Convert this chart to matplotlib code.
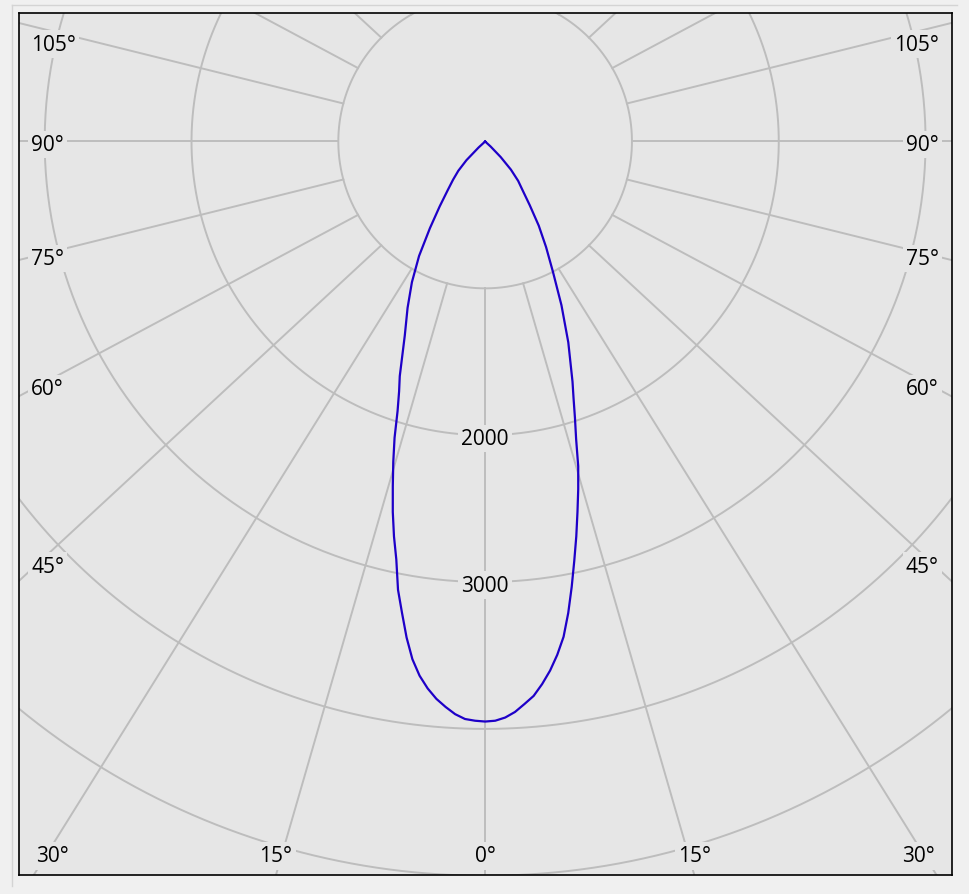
import matplotlib
matplotlib.use("Agg")
import matplotlib.pyplot as plt
import numpy as np

# luminous intensity (cd), C0 plane on the right, C180 plane on the left
gamma = [0, 1, 2, 3, 4, 5, 6, 7, 8, 9, 10, 11, 12, 13, 14, 15, 16, 17, 18,
         19, 20, 22.5, 25, 27.5, 30, 32.5, 35, 37.5, 40, 42.5, 45, 47.5, 50]
c0 = [3950, 3945, 3925, 3890, 3840, 3790, 3715, 3630, 3530, 3415, 3260, 3090,
      2920, 2760, 2600, 2450, 2300, 2120, 1980, 1850, 1740, 1480, 1230, 1000,
      830, 680, 530, 420, 350, 260, 150, 50, 0]
c180 = [3950, 3945, 3935, 3905, 3860, 3810, 3745, 3665, 3560, 3420, 3260, 3110,
        2910, 2760, 2600, 2430, 2270, 2110, 1930, 1800, 1700, 1430, 1250, 1080,
        900, 700, 540, 420, 340, 270, 180, 60, 0]

rings = [1000, 2000, 3000, 4000, 5000, 6000]
ring_labels = [2000, 3000]
spoke_angles = list(range(0, 360, 15))
label_angles = [0, 15, 30, 45, 60, 75, 90, 105]

bg = '#e6e6e6'
grid_col = '#bdbdbd'
font = ['Open Sans', 'DejaVu Sans']

fig = plt.figure(figsize=(9.69, 8.95), dpi=100, facecolor='#f0f0f0')
ax = fig.add_axes([19/969, 1-876/895, 933/969, 862/895])
ax.set_facecolor(bg)
xmin, xmax = -3175, 3180
ymin, ymax = -4995, 875
ax.set_xlim(xmin, xmax)
ax.set_ylim(ymin, ymax)
ax.set_xticks([])
ax.set_yticks([])
for sp in ax.spines.values():
    sp.set_color('black')
    sp.set_linewidth(1.2)

px = 0.1468  # pixels per cd
dtext = 3/px  # small downward nudge for text

# rings
t = np.linspace(0, 2*np.pi, 721)
for r in rings:
    ax.plot(r*np.sin(t), r*np.cos(t), color=grid_col, lw=1.4, zorder=1)

# spokes (outer ends slightly stretched sideways, as in the original)
k = 1.07
R = 8000
spokes = {}
for a in spoke_angles:
    if a == 180:
        continue
    th = np.radians(a)
    x0, y0 = 1000*np.sin(th), -1000*np.cos(th)
    x1, y1 = R*k*np.sin(th), -R*np.cos(th)
    spokes[a] = (x0, y0, x1, y1)
    ax.plot([x0, x1], [y0, y1], color=grid_col, lw=1.4, zorder=1)

box = dict(boxstyle='square,pad=0.15', fc=bg, ec='none')

# ring labels
for r in ring_labels:
    ax.text(0, -r - dtext, str(r), ha='center', va='center', fontsize=15,
            family=font, zorder=3, bbox=box)

# angle labels along the frame
side_x = xmax - 20/px
y_top = ymax - 28/px
y_bot = ymin + 22/px
bot_lim = xmax - 34/px
for a in label_angles:
    for sgn in ([1] if a == 0 else [1, -1]):
        x0, y0, x1, y1 = spokes[a]
        dx, dy = x1 - x0, y1 - y0
        if a < 40:
            tt = (ymin - y0)/dy
            xc = min(x0 + tt*dx, bot_lim)
            ax.text(sgn*xc, y_bot - dtext, f'{a}°', ha='center', va='center',
                    fontsize=15, family=font, zorder=3, bbox=box)
        else:
            tt = (side_x - x0)/dx
            yc = max(min(y0 + tt*dy, y_top), y_bot)
            xt = (xmax - 13/px) if sgn > 0 else (xmin + 12/px)
            ax.text(xt, yc - dtext, f'{a}°', ha='right' if sgn > 0 else 'left',
                    va='center', fontsize=15, family=font, zorder=3, bbox=box)

# intensity curve
g = np.radians(gamma)
xl = -np.array(c180)*np.sin(g)
yl = -np.array(c180)*np.cos(g)
xr = np.array(c0)*np.sin(g)
yr = -np.array(c0)*np.cos(g)
xs = np.concatenate([xl[::-1], xr])
ys = np.concatenate([yl[::-1], yr])
ax.plot(xs, ys, color='#1e00c8', lw=1.6, zorder=4, solid_joinstyle='round')

# panel edge
fig.add_artist(plt.Line2D([12/969, 957/969], [1-6/895, 1-6/895],
                          transform=fig.transFigure, color='#d4d4d4', lw=1))
fig.add_artist(plt.Line2D([12/969, 12/969], [1-6/895, 1-887/895],
                          transform=fig.transFigure, color='#d4d4d4', lw=1))

fig.savefig('out.png', dpi=100, facecolor=fig.get_facecolor())
